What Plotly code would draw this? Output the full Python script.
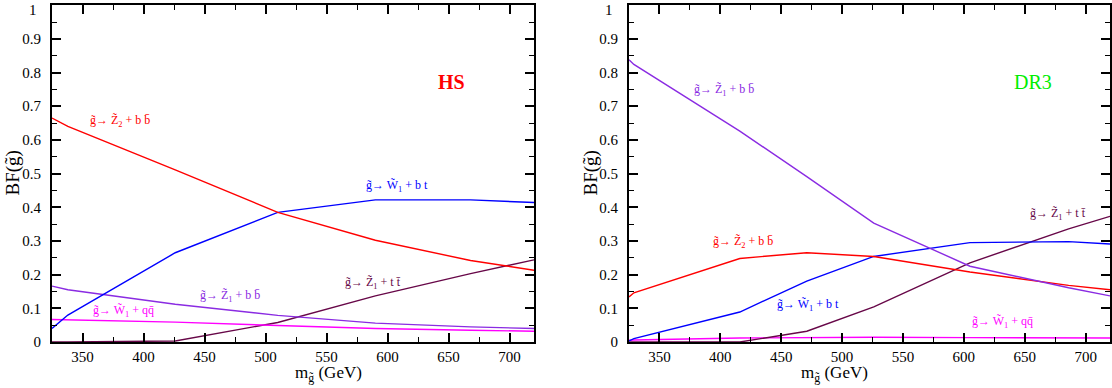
import plotly.graph_objects as go

# ---------------- data ----------------
hs_mass = [325, 338, 426, 510, 590, 668, 720]
hs_z2bb = [0.665, 0.640, 0.511, 0.385, 0.302, 0.242, 0.213]
hs_w1bt = [0.040, 0.080, 0.265, 0.385, 0.422, 0.422, 0.414]
hs_z1bb = [0.166, 0.155, 0.112, 0.079, 0.056, 0.045, 0.040]
hs_w1qq = [0.067, 0.066, 0.059, 0.049, 0.040, 0.035, 0.032]
hs_z1tt = [0.000, 0.000, 0.003, 0.058, 0.137, 0.203, 0.244]

dr3_mass = [325, 329, 416, 471, 526, 605, 686, 720]
dr3_z1bb = [0.838, 0.824, 0.626, 0.491, 0.353, 0.225, 0.161, 0.137]
dr3_z2bb = [0.134, 0.146, 0.248, 0.265, 0.254, 0.208, 0.168, 0.155]
dr3_w1bt = [0.003, 0.010, 0.089, 0.181, 0.254, 0.295, 0.298, 0.291]
dr3_z1tt = [0.000, 0.000, 0.000, 0.032, 0.104, 0.235, 0.336, 0.373]
dr3_w1qq = [0.005, 0.006, 0.012, 0.014, 0.014, 0.013, 0.012, 0.012]

y_ticks = [0, 0.1, 0.2, 0.3, 0.4, 0.5, 0.6, 0.7, 0.8, 0.9, 1]
y_ticktext = ["0", "0.1", "0.2", "0.3", "0.4", "0.5", "0.6", "0.7", "0.8", "0.9", ""]
y_top_label = "1"
x_ticks = [350, 400, 450, 500, 550, 600, 650, 700]

lbl_z2bb = "g\u0303\u2192 Z\u0303<sub>2</sub> + b b\u0304"
lbl_z1bb = "g\u0303\u2192 Z\u0303<sub>1</sub> + b b\u0304"
lbl_z1tt = "g\u0303\u2192 Z\u0303<sub>1</sub> + t t\u0304"
lbl_w1bt = "g\u0303\u2192 W\u0303<sub>1</sub> + b t"
lbl_w1qq = "g\u0303\u2192 W\u0303<sub>1</sub> + qq\u0304"

hs_labels = [(lbl_z2bb, 381, 0.655), (lbl_w1bt, 608, 0.463), (lbl_z1tt, 588, 0.175),
             (lbl_z1bb, 471, 0.138), (lbl_w1qq, 384, 0.091)]
dr3_labels = [(lbl_z1bb, 403, 0.747), (lbl_z2bb, 419, 0.297), (lbl_w1bt, 472, 0.109),
              (lbl_z1tt, 677, 0.381), (lbl_w1qq, 632, 0.059)]

RED = "#ff0000"
BLUE = "#0000ff"
VIOLET = "#8a2be2"
MAGENTA = "#ff00ff"
MAROON = "#670748"
SERIF = "Liberation Serif, Times New Roman, serif"

W, H = 1112, 388
fig = go.Figure()

def add_panel(mass, series, xa, ya):
    for ys, col in series:
        fig.add_trace(go.Scatter(x=mass, y=ys, mode="lines", xaxis=xa, yaxis=ya,
                                 line=dict(color=col, width=1.4), showlegend=False,
                                 hoverinfo="skip"))

add_panel(hs_mass, [(hs_z1tt, MAROON), (hs_w1qq, MAGENTA), (hs_z1bb, VIOLET),
                    (hs_w1bt, BLUE), (hs_z2bb, RED)], "x", "y")
add_panel(dr3_mass, [(dr3_w1qq, MAGENTA), (dr3_z1tt, MAROON), (dr3_w1bt, BLUE),
                     (dr3_z2bb, RED), (dr3_z1bb, VIOLET)], "x2", "y2")

colors_hs = [RED, BLUE, MAROON, VIOLET, MAGENTA]
colors_dr3 = [VIOLET, RED, BLUE, MAROON, MAGENTA]
ann = []
for (t, x, y), c in zip(hs_labels, colors_hs):
    ann.append(dict(text=t, x=x, y=y, xref="x", yref="y", showarrow=False,
                    font=dict(family=SERIF, size=12, color=c)))
for (t, x, y), c in zip(dr3_labels, colors_dr3):
    ann.append(dict(text=t, x=x, y=y, xref="x2", yref="y2", showarrow=False,
                    font=dict(family=SERIF, size=12, color=c)))
ann.append(dict(text="<b>HS</b>", x=652, y=0.773, xref="x", yref="y", showarrow=False,
                font=dict(family=SERIF, size=20, color=RED)))
ann.append(dict(text="DR3", x=657, y=0.773, xref="x2", yref="y2", showarrow=False,
                font=dict(family=SERIF, size=20, color="#00ee00")))

# axis titles as annotations for exact placement
for xc in [(52 + 534) / 2, (629 + 1110) / 2]:
    ann.append(dict(text="m<sub>g\u0303</sub> (GeV)", x=xc / W, y=1 - 374 / H,
                    xref="paper", yref="paper", showarrow=False, yanchor="middle",
                    font=dict(family=SERIF, size=17, color="black")))
for xc in [12, 590]:
    ann.append(dict(text="BF(g\u0303)", x=xc / W, y=1 - 173.5 / H, textangle=-90,
                    xref="paper", yref="paper", showarrow=False,
                    xanchor="center", yanchor="middle",
                    font=dict(family=SERIF, size=19, color="black")))
# top "1" tick labels (plotly drops the edge label)
for xr in [39, 615]:
    ann.append(dict(text=y_top_label, x=xr / W, y=1.0, xref="paper", yref="paper",
                    showarrow=False, xanchor="right", yanchor="top",
                    font=dict(family=SERIF, size=15, color="black")))

ydom = [1 - 342 / H, 1 - 5 / H]
common_x = dict(range=[325, 720], tickvals=x_ticks, ticks="inside", ticklen=9,
                tickwidth=1.5, tickcolor="black", showline=True, linecolor="black",
                linewidth=2, mirror="ticks", showgrid=False, zeroline=False,
                automargin=False,
                minor=dict(dtick=25, tick0=325, ticks="inside", ticklen=5, tickwidth=1.2,
                           tickcolor="black", showgrid=False),
                tickfont=dict(family=SERIF, size=15, color="black"))
common_y = dict(range=[0, 1.0005], tickvals=y_ticks, ticktext=y_ticktext,
                ticks="inside", ticklen=9, tickwidth=1.5,
                tickcolor="black", showline=True, linecolor="black", linewidth=2,
                mirror="ticks", showgrid=False, zeroline=False, automargin=False,
                ticklabelstandoff=6,
                minor=dict(dtick=0.05, tick0=0, ticks="inside", ticklen=5, tickwidth=1.2,
                           tickcolor="black", showgrid=False),
                tickfont=dict(family=SERIF, size=15, color="black"),
                domain=ydom)

fig.update_layout(
    width=W, height=H, margin=dict(l=0, r=0, t=0, b=0),
    paper_bgcolor="white", plot_bgcolor="white",
    xaxis=dict(common_x, domain=[52 / W, 534 / W], anchor="y"),
    yaxis=dict(common_y, anchor="x"),
    xaxis2=dict(common_x, domain=[629 / W, 1110 / W], anchor="y2"),
    yaxis2=dict(common_y, anchor="x2"),
    annotations=ann,
)

fig.write_html("out.html")
